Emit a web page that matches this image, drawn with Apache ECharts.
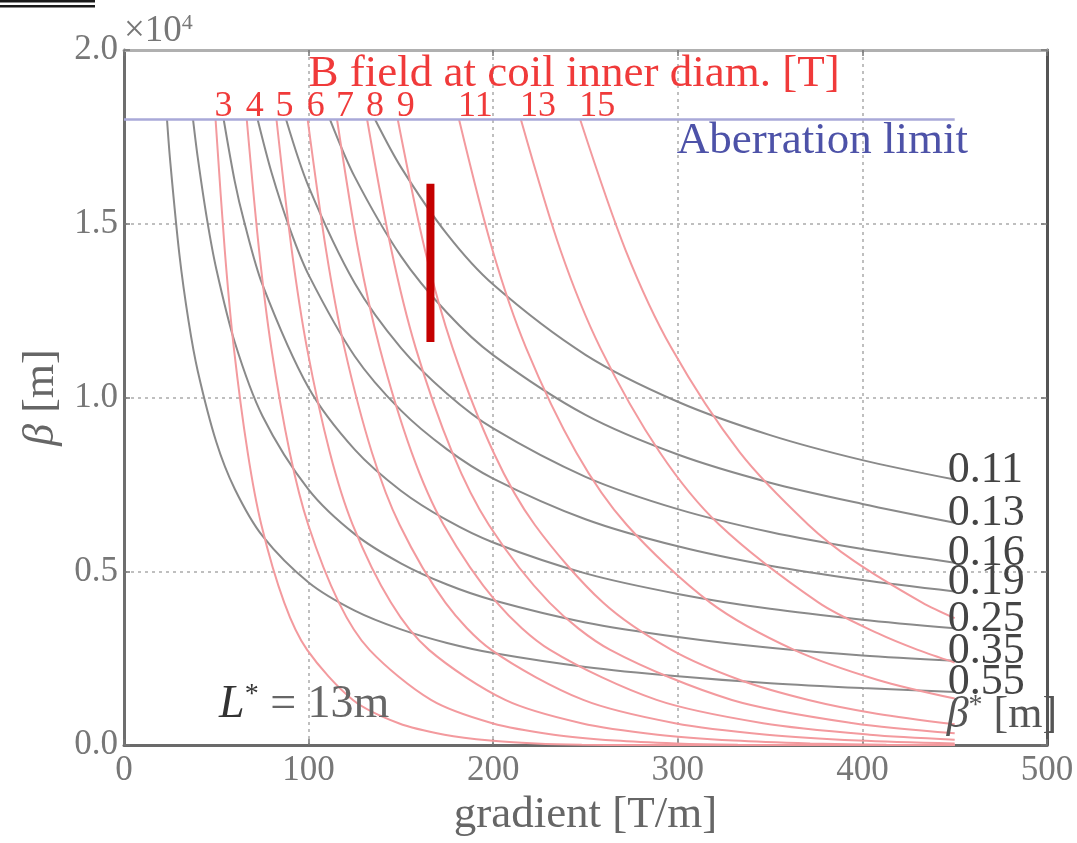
<!DOCTYPE html>
<html>
<head>
<meta charset="utf-8">
<script src="https://cdn.jsdelivr.net/npm/echarts@6/dist/echarts.min.js"></script>
<style>
  html, body { margin: 0; padding: 0; background: #ffffff; overflow: hidden; }
  #chart { width: 1077px; height: 843px; }
</style>
</head>
<body>
<div id="chart"></div>
<script>
// Axis ranges and ticks
const gradientTicks = [0, 100, 200, 300, 400, 500];   // T/m
const betaTicks = [0, 5000, 10000, 15000, 20000];     // m

// Peak beta vs. quadrupole gradient for constant beta* (points: [gradient, beta_max])
const betaStarNames = ['0.11', '0.13', '0.16', '0.19', '0.25', '0.35', '0.55'];
const betaStar011 = [[136, 18000], [150, 16630], [175, 14700], [200, 13250], [250, 11230], [300, 9880], [350, 8920], [400, 8200], [450, 7640]];
const betaStar013 = [[111.6, 18000], [125, 16350], [150, 14070], [175, 12440], [200, 11220], [250, 9500], [300, 8360], [350, 7550], [400, 6940], [450, 6400]];
const betaStar016 = [[87.8, 18000], [100, 16070], [125, 13290], [150, 11430], [175, 10110], [200, 9110], [250, 7720], [300, 6790], [350, 6130], [400, 5640], [450, 5250]];
const betaStar019 = [[72.4, 18000], [80, 16460], [90, 14830], [100, 13530], [125, 11190], [150, 9630], [175, 8510], [200, 7670], [250, 6500], [300, 5720], [350, 5160], [400, 4750], [450, 4420]];
const betaStar025 = [[54, 18000], [60, 16220], [65, 15080], [75, 13250], [100, 10280], [125, 8500], [150, 7320], [175, 6470], [200, 5830], [250, 4940], [300, 4350], [350, 3920], [400, 3610], [450, 3360]];
const betaStar035 = [[37.4, 18000], [40, 16890], [45, 15120], [50, 13700], [60, 11590], [75, 9470], [100, 7350], [125, 6070], [150, 5230], [175, 4620], [200, 4170], [250, 3530], [300, 3110], [350, 2800], [400, 2580], [450, 2430]];
const betaStar055 = [[23.3, 18000], [25, 16820], [30, 14120], [35, 12190], [40, 10750], [50, 8720], [60, 7370], [75, 6020], [100, 4680], [125, 3870], [150, 3330], [175, 2940], [200, 2650], [250, 2250], [300, 1980], [350, 1780], [400, 1640], [450, 1530]];

// Peak beta reachable for a given field at the coil inner diameter (points: [gradient, beta_max])
const fieldNames = ['3', '4', '5', '6', '7', '8', '9', '11', '13', '15'];
const field3T = [[49.6, 18000], [54.6, 14230], [59.5, 11430], [67, 8420], [74.4, 6340], [86.8, 4100], [99.2, 2740], [124, 1300], [148.8, 630], [173.6, 300], [198.4, 130], [223.2, 48], [248, 11], [276, 0], [450, 0]];
const field4T = [[66.5, 18000], [73.2, 14230], [79.8, 11430], [89.8, 8420], [99.8, 6340], [116.4, 4100], [133, 2740], [166.3, 1300], [199.5, 630], [232.8, 300], [266, 130], [299.3, 48], [332.5, 11], [370, 0], [450, 0]];
const field5T = [[82.6, 18000], [90.9, 14230], [99.1, 11430], [111.5, 8420], [123.9, 6340], [144.6, 4100], [165.2, 2740], [206.5, 1300], [247.8, 630], [289.1, 300], [330.4, 130], [371.7, 48], [413, 11], [450, 1]];
const field6T = [[99.5, 18000], [109.5, 14230], [119.4, 11430], [134.3, 8420], [149.3, 6340], [174.1, 4100], [199, 2740], [248.8, 1300], [298.5, 630], [348.3, 300], [398, 130], [450, 46]];
const field7T = [[115.4, 18000], [126.9, 14230], [138.5, 11430], [155.8, 8420], [173.1, 6340], [202, 4100], [230.8, 2740], [288.5, 1300], [346.2, 630], [403.9, 300], [450, 157]];
const field8T = [[131.7, 18000], [144.9, 14230], [158, 11430], [177.8, 8420], [197.6, 6340], [230.5, 4100], [263.4, 2740], [329.3, 1300], [395.1, 630], [450, 341]];
const field9T = [[148.3, 18000], [163.1, 14230], [178, 11430], [200.2, 8420], [222.5, 6340], [259.5, 4100], [296.6, 2740], [333.7, 1874], [370.8, 1300], [407.8, 905], [450, 601]];
const field11T = [[181.5, 18000], [199.7, 14230], [217.8, 11430], [245, 8420], [272.3, 6340], [317.6, 4100], [363, 2740], [408.4, 1874], [450, 1338]];
const field13T = [[215, 18000], [236.5, 14230], [258, 11430], [290.3, 8420], [322.5, 6340], [376.3, 4100], [408.5, 3213], [430, 2740], [450, 2377]];
const field15T = [[247.1, 18000], [271.8, 14230], [296.5, 11430], [333.6, 8420], [370.7, 6340], [395.4, 5300], [432.4, 4100], [450, 3651]];

// Aberration limit and the design range marker
const aberrationLimit = [[0, 18000], [450, 18000]];
const designRange = [[166, 11600], [166, 16150]];

const SERIF = '"Liberation Serif", "DejaVu Serif", serif';
const betaStarCurves = [betaStar011, betaStar013, betaStar016, betaStar019, betaStar025, betaStar035, betaStar055];
const fieldCurves = [field3T, field4T, field5T, field6T, field7T, field8T, field9T, field11T, field13T, field15T];

const chart = echarts.init(document.getElementById('chart'), null, { renderer: 'canvas' });

const frameTick = { show: true, inside: true, length: 6, lineStyle: { color: '#777', width: 1.5 } };
const gridDots = { show: true, lineStyle: { color: '#aaaaaa', width: 1.5, type: [3, 4] } };

const graySeries = betaStarCurves.map((d, i) => ({
  type: 'line',
  name: 'beta* ' + betaStarNames[i],
  data: d,
  showSymbol: false,
  smooth: 0.3,
  silent: true,
  z: 3,
  lineStyle: { color: '#8a8a8a', width: 2 },
  markPoint: {
    symbol: 'circle',
    symbolSize: 0,
    silent: true,
    data: [{ coord: d[d.length - 1] }],
    label: {
      show: true,
      position: 'inside',
      formatter: betaStarNames[i],
      align: 'left',
      verticalAlign: 'middle',
      offset: [-7, -9],
      fontFamily: SERIF,
      fontSize: 44,
      color: '#444'
    }
  }
}));

const redSeries = fieldCurves.map((d, i) => ({
  type: 'line',
  name: 'B ' + fieldNames[i] + ' T',
  data: d,
  showSymbol: false,
  smooth: 0.3,
  silent: true,
  z: 4,
  lineStyle: { color: '#f39a9e', width: 2 },
  markPoint: {
    symbol: 'circle',
    symbolSize: 0,
    silent: true,
    data: [{ coord: d[0] }],
    label: {
      show: true,
      position: 'inside',
      formatter: fieldNames[i],
      align: 'left',
      verticalAlign: 'middle',
      offset: [-1, -13],
      fontFamily: SERIF,
      fontSize: 36,
      color: '#f03a3a'
    }
  }
}));

const textBase = { show: true, position: 'inside', align: 'left', verticalAlign: 'middle', fontFamily: SERIF };

const option = {
  animation: false,
  backgroundColor: '#ffffff',
  grid: { left: 124, right: 30, top: 50, bottom: 86, containLabel: false },
  xAxis: [
    {
      type: 'value', min: gradientTicks[0], max: gradientTicks[gradientTicks.length - 1],
      interval: gradientTicks[1] - gradientTicks[0], position: 'bottom',
      name: 'gradient [T/m]', nameLocation: 'middle', nameGap: 46,
      nameTextStyle: { fontFamily: SERIF, fontSize: 45, color: '#666' },
      axisLine: { show: true, onZero: false, lineStyle: { color: '#6a6a6a', width: 3 } },
      axisTick: frameTick,
      axisLabel: { fontFamily: SERIF, fontSize: 35, color: '#777', margin: 8 },
      splitLine: gridDots
    },
    {
      type: 'value', min: gradientTicks[0], max: gradientTicks[gradientTicks.length - 1],
      interval: gradientTicks[1] - gradientTicks[0], position: 'top',
      axisLine: { show: true, onZero: false, lineStyle: { color: '#b0b0b0', width: 3 } },
      axisTick: frameTick, axisLabel: { show: false }, splitLine: { show: false }
    }
  ],
  yAxis: [
    {
      type: 'value', min: betaTicks[0], max: betaTicks[betaTicks.length - 1],
      interval: betaTicks[1] - betaTicks[0], position: 'left',
      name: '{i|β} [m]', nameLocation: 'middle', nameGap: 56,
      nameTextStyle: {
        fontFamily: SERIF, fontSize: 44, color: '#666',
        rich: { i: { fontFamily: SERIF, fontSize: 44, fontStyle: 'italic', color: '#666' } }
      },
      axisLine: { show: true, onZero: false, lineStyle: { color: '#6e6e6e', width: 3 } },
      axisTick: frameTick,
      axisLabel: {
        formatter: v => (v / 10000).toFixed(1),
        fontFamily: SERIF, fontSize: 35, color: '#777', margin: 6
      },
      splitLine: gridDots
    },
    {
      type: 'value', min: betaTicks[0], max: betaTicks[betaTicks.length - 1],
      interval: betaTicks[1] - betaTicks[0], position: 'right',
      axisLine: { show: true, onZero: false, lineStyle: { color: '#555', width: 3 } },
      axisTick: frameTick, axisLabel: { show: false }, splitLine: { show: false }
    },
    {
      type: 'value', min: betaTicks[0], max: betaTicks[betaTicks.length - 1], position: 'left',
      name: '×10{s|4}', nameLocation: 'end', nameGap: 19,
      nameTextStyle: {
        align: 'left', verticalAlign: 'middle', fontFamily: SERIF, fontSize: 37, color: '#777',
        rich: { s: { fontFamily: SERIF, fontSize: 22, color: '#777', padding: [0, 0, 16, 0] } }
      },
      axisLine: { show: false }, axisTick: { show: false }, axisLabel: { show: false }, splitLine: { show: false }
    }
  ],
  graphic: [
    { type: 'rect', shape: { x: 0, y: 0, width: 95, height: 2.5 }, style: { fill: '#1a1a1a' } },
    { type: 'rect', shape: { x: 0, y: 5, width: 95, height: 2.5 }, style: { fill: '#1a1a1a' } }
  ],
  series: [
    ...graySeries,
    ...redSeries,
    {
      type: 'line',
      name: 'Aberration limit',
      data: aberrationLimit,
      showSymbol: false,
      silent: true,
      z: 6,
      lineStyle: { color: '#a9a9d8', width: 2.5 },
      markPoint: {
        symbol: 'circle',
        symbolSize: 0,
        silent: true,
        data: [
          {
            coord: [300, 18000],
            label: Object.assign({}, textBase, { formatter: 'Aberration limit', offset: [-1, 22], fontSize: 45, color: '#4d52a8' })
          },
          {
            coord: [100, 18000],
            label: Object.assign({}, textBase, { formatter: 'B field at coil inner diam. [T]', offset: [0, -45], fontSize: 45, color: '#f03a3a' })
          },
          {
            coord: [450, 0],
            label: Object.assign({}, textBase, {
              formatter: '{i|β}{s|*} [m]', offset: [-8, -30], fontSize: 44, color: '#555',
              rich: {
                i: { fontFamily: SERIF, fontSize: 44, fontStyle: 'italic', color: '#555' },
                s: { fontFamily: SERIF, fontSize: 28, color: '#555', padding: [0, 0, 18, 0] }
              }
            })
          },
          {
            coord: [51.5, 0],
            label: Object.assign({}, textBase, {
              formatter: '{i|L}{s|*} = 13m', offset: [0, -40], fontSize: 46, color: '#666',
              rich: {
                i: { fontFamily: SERIF, fontSize: 46, fontStyle: 'italic', color: '#333' },
                s: { fontFamily: SERIF, fontSize: 28, color: '#333', padding: [0, 0, 20, 0] }
              }
            })
          }
        ]
      }
    },
    {
      type: 'line',
      name: 'design range',
      data: designRange,
      showSymbol: false,
      silent: true,
      z: 7,
      lineStyle: { color: '#c40000', width: 8, cap: 'butt' }
    }
  ]
};

chart.setOption(option);
</script>
</body>
</html>
